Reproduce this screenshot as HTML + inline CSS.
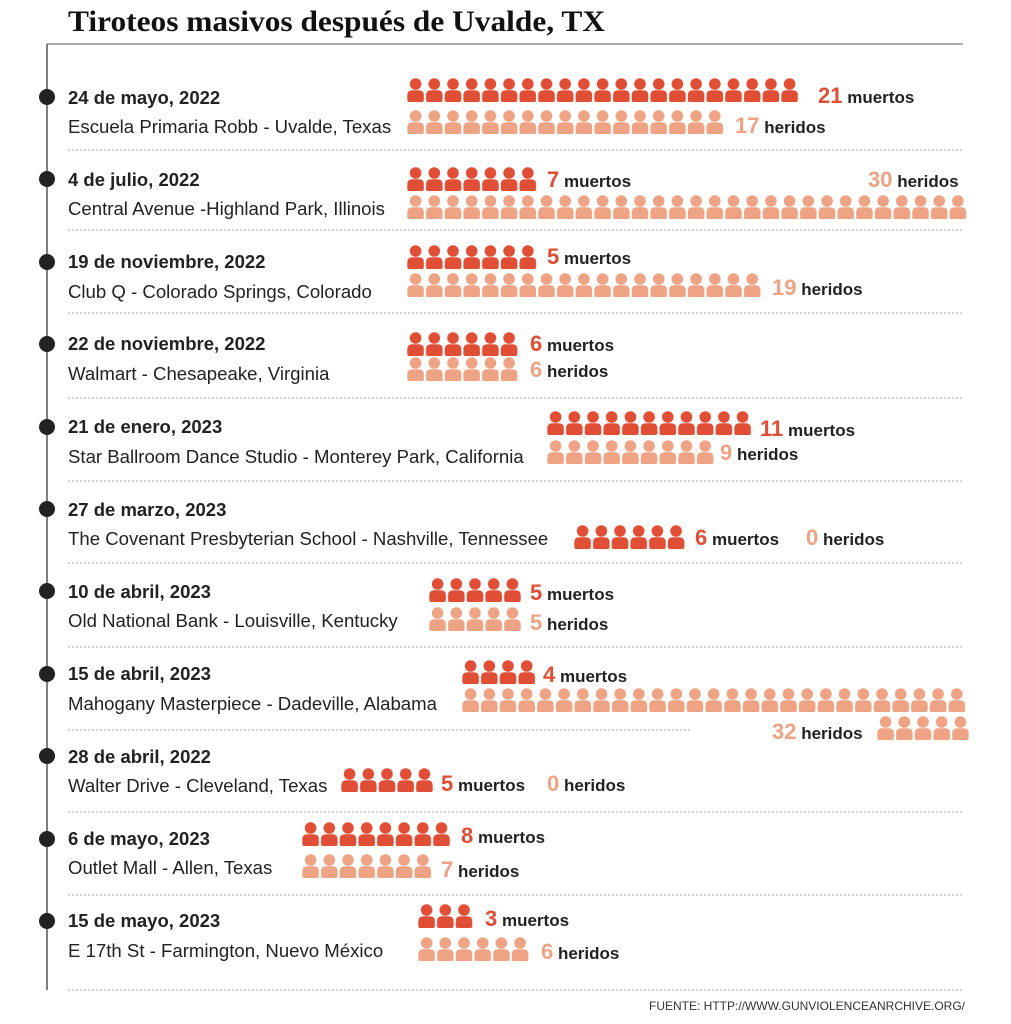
<!DOCTYPE html>
<html><head><meta charset="utf-8"><style>
html,body{margin:0;padding:0;background:#fff}
svg{display:block}
.d{font:bold 18.5px "Liberation Sans",sans-serif;fill:#222}
.l{font:18.6px "Liberation Sans",sans-serif;fill:#222}
.n{font:bold 22px "Liberation Sans",sans-serif}
.w{font:bold 17px "Liberation Sans",sans-serif;fill:#222}
.r{fill:#e04e36}.p{fill:#eda384}
</style></head><body>
<svg width="1011" height="1024" viewBox="0 0 1011 1024">
<defs>
<pattern id="pr" patternUnits="userSpaceOnUse" width="18.7" height="25"><circle cx="8.6" cy="6" r="5.8" fill="#e04e36"/><path d="M0.3,22 V17.5 Q0.3,12.3 5.5,12.3 H11.7 Q16.9,12.3 16.9,17.5 V22 Q16.9,24 14.9,24 H2.3 Q0.3,24 0.3,22Z" fill="#e04e36"/></pattern>
<pattern id="pp" patternUnits="userSpaceOnUse" width="18.7" height="25"><circle cx="8.6" cy="6" r="5.8" fill="#eda384"/><path d="M0.3,22 V17.5 Q0.3,12.3 5.5,12.3 H11.7 Q16.9,12.3 16.9,17.5 V22 Q16.9,24 14.9,24 H2.3 Q0.3,24 0.3,22Z" fill="#eda384"/></pattern>
</defs>
<text x="68" y="31" textLength="537" lengthAdjust="spacingAndGlyphs" style="font:bold 30px 'Liberation Serif',serif;fill:#111">Tiroteos masivos después de Uvalde, TX</text>
<line x1="47" y1="44" x2="963" y2="44" stroke="#555" stroke-width="1"/>
<line x1="47" y1="44" x2="47" y2="990" stroke="#555" stroke-width="1.5"/>
<g fill="#222">
<circle cx="47" cy="97" r="8"/><circle cx="47" cy="179" r="8"/><circle cx="47" cy="262" r="8"/><circle cx="47" cy="344" r="8"/><circle cx="47" cy="427" r="8"/><circle cx="47" cy="509" r="8"/><circle cx="47" cy="591" r="8"/><circle cx="47" cy="674" r="8"/><circle cx="47" cy="756" r="8"/><circle cx="47" cy="839" r="8"/><circle cx="47" cy="921" r="8"/>
</g>
<g stroke="#aaa" stroke-width="1" stroke-dasharray="2,2">
<line x1="68" y1="150" x2="963" y2="150"/><line x1="68" y1="230" x2="963" y2="230"/><line x1="68" y1="313" x2="963" y2="313"/><line x1="68" y1="398" x2="963" y2="398"/><line x1="68" y1="481" x2="963" y2="481"/><line x1="68" y1="563" x2="963" y2="563"/><line x1="68" y1="647" x2="963" y2="647"/><line x1="68" y1="730" x2="690" y2="730"/><line x1="68" y1="812" x2="963" y2="812"/><line x1="68" y1="895" x2="963" y2="895"/><line x1="68" y1="990" x2="963" y2="990"/>
</g>

<text class="d" x="68" y="104">24 de mayo, 2022</text><text class="l" x="68" y="133">Escuela Primaria Robb - Uvalde, Texas</text>
<g transform="translate(407,78)"><rect width="392.7" height="25" fill="url(#pr)"/></g>
<g transform="translate(407,110)"><rect width="317.9" height="25" fill="url(#pp)"/></g>
<text x="818" y="103"><tspan class="n r">21</tspan><tspan class="w"> muertos</tspan></text>
<text x="735" y="133"><tspan class="n p">17</tspan><tspan class="w"> heridos</tspan></text>

<text class="d" x="68" y="186">4 de julio, 2022</text><text class="l" x="68" y="215">Central Avenue -Highland Park, Illinois</text>
<g transform="translate(407,167)"><rect width="130.9" height="25" fill="url(#pr)"/></g>
<g transform="translate(407,195)"><rect width="561" height="25" fill="url(#pp)"/></g>
<text x="547" y="187"><tspan class="n r">7</tspan><tspan class="w"> muertos</tspan></text>
<text x="868" y="187"><tspan class="n p">30</tspan><tspan class="w"> heridos</tspan></text>

<text class="d" x="68" y="268">19 de noviembre, 2022</text><text class="l" x="68" y="298">Club Q - Colorado Springs, Colorado</text>
<g transform="translate(407,245)"><rect width="130.9" height="25" fill="url(#pr)"/></g>
<g transform="translate(407,273)"><rect width="355.3" height="25" fill="url(#pp)"/></g>
<text x="547" y="264"><tspan class="n r">5</tspan><tspan class="w"> muertos</tspan></text>
<text x="772" y="295"><tspan class="n p">19</tspan><tspan class="w"> heridos</tspan></text>

<text class="d" x="68" y="350">22 de noviembre, 2022</text><text class="l" x="68" y="380">Walmart - Chesapeake, Virginia</text>
<g transform="translate(407,332)"><rect width="112.2" height="25" fill="url(#pr)"/></g>
<g transform="translate(407,357)"><rect width="112.2" height="25" fill="url(#pp)"/></g>
<text x="530" y="351"><tspan class="n r">6</tspan><tspan class="w"> muertos</tspan></text>
<text x="530" y="377"><tspan class="n p">6</tspan><tspan class="w"> heridos</tspan></text>

<text class="d" x="68" y="433">21 de enero, 2023</text><text class="l" x="68" y="463">Star Ballroom Dance Studio - Monterey Park, California</text>
<g transform="translate(547,411)"><rect width="205.7" height="25" fill="url(#pr)"/></g>
<g transform="translate(547,440)"><rect width="168.3" height="25" fill="url(#pp)"/></g>
<text x="760" y="436"><tspan class="n r">11</tspan><tspan class="w"> muertos</tspan></text>
<text x="720" y="460"><tspan class="n p">9</tspan><tspan class="w"> heridos</tspan></text>

<text class="d" x="68" y="516">27 de marzo, 2023</text><text class="l" x="68" y="545">The Covenant Presbyterian School - Nashville, Tennessee</text>
<g transform="translate(574,525)"><rect width="112.2" height="25" fill="url(#pr)"/></g>
<text x="695" y="545"><tspan class="n r">6</tspan><tspan class="w"> muertos</tspan></text>
<text x="806" y="545"><tspan class="n p">0</tspan><tspan class="w"> heridos</tspan></text>

<text class="d" x="68" y="598">10 de abril, 2023</text><text class="l" x="68" y="627">Old National Bank - Louisville, Kentucky</text>
<g transform="translate(429,578)"><rect width="93.5" height="25" fill="url(#pr)"/></g>
<g transform="translate(429,607)"><rect width="93.5" height="25" fill="url(#pp)"/></g>
<text x="530" y="600"><tspan class="n r">5</tspan><tspan class="w"> muertos</tspan></text>
<text x="530" y="630"><tspan class="n p">5</tspan><tspan class="w"> heridos</tspan></text>

<text class="d" x="68" y="680">15 de abril, 2023</text><text class="l" x="68" y="710">Mahogany Masterpiece - Dadeville, Alabama</text>
<g transform="translate(462,660)"><rect width="74.8" height="25" fill="url(#pr)"/></g>
<g transform="translate(462,688)"><rect width="504.9" height="25" fill="url(#pp)"/></g>
<g transform="translate(877,716)"><rect width="93.5" height="25" fill="url(#pp)"/></g>
<text x="543" y="682"><tspan class="n r">4</tspan><tspan class="w"> muertos</tspan></text>
<text x="772" y="739"><tspan class="n p">32</tspan><tspan class="w"> heridos</tspan></text>

<text class="d" x="68" y="763">28 de abril, 2022</text><text class="l" x="68" y="792">Walter Drive - Cleveland, Texas</text>
<g transform="translate(341,768)"><rect width="93.5" height="25" fill="url(#pr)"/></g>
<text x="441" y="791"><tspan class="n r">5</tspan><tspan class="w"> muertos</tspan></text>
<text x="547" y="791"><tspan class="n p">0</tspan><tspan class="w"> heridos</tspan></text>

<text class="d" x="68" y="845">6 de mayo, 2023</text><text class="l" x="68" y="874">Outlet Mall - Allen, Texas</text>
<g transform="translate(302,822)"><rect width="149.6" height="25" fill="url(#pr)"/></g>
<g transform="translate(302,854)"><rect width="130.9" height="25" fill="url(#pp)"/></g>
<text x="461" y="843"><tspan class="n r">8</tspan><tspan class="w"> muertos</tspan></text>
<text x="441" y="877"><tspan class="n p">7</tspan><tspan class="w"> heridos</tspan></text>

<text class="d" x="68" y="927">15 de mayo, 2023</text><text class="l" x="68" y="957">E 17th St  - Farmington, Nuevo México</text>
<g transform="translate(418,904)"><rect width="56.1" height="25" fill="url(#pr)"/></g>
<g transform="translate(418,937)"><rect width="112.2" height="25" fill="url(#pp)"/></g>
<text x="485" y="926"><tspan class="n r">3</tspan><tspan class="w"> muertos</tspan></text>
<text x="541" y="959"><tspan class="n p">6</tspan><tspan class="w"> heridos</tspan></text>

<text x="965" y="1010" text-anchor="end" style="font:12px 'Liberation Sans',sans-serif;fill:#333">FUENTE: HTTP://WWW.GUNVIOLENCEANRCHIVE.ORG/</text>
</svg>
</body></html>
